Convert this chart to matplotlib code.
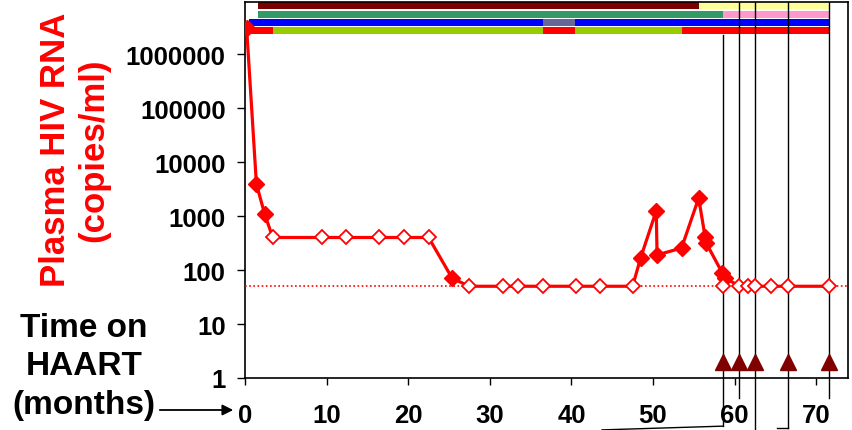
import matplotlib
matplotlib.use('Agg')
import matplotlib.pyplot as plt
import matplotlib.transforms as mtransforms

plt.rcParams['font.family'] = ['Liberation Sans', 'DejaVu Sans']
plt.rcParams['font.weight'] = 'bold'

# viral load over time (months on HAART)
months = [0.2, 1.4, 2.4, 3.4, 9.4, 12.4, 16.4, 19.5, 22.5, 25.4, 27.5, 31.6, 33.5,
          36.5, 40.6, 43.5, 47.5, 48.5, 50.4, 50.5, 53.5, 55.6, 56.4, 56.5, 58.5,
          58.8, 60.6, 61.6, 62.5, 64.5, 66.5, 71.6]
rna = [3000000, 3900, 1100, 400, 400, 400, 400, 400, 400, 70, 50, 50, 50,
       50, 50, 50, 50, 170, 1250, 190, 255, 2150, 400, 320, 88,
       72, 50, 50, 50, 50, 50, 50]
# True = detectable (filled marker), False = below detection (open marker)
detectable = [True, True, True, False, False, False, False, False, False, True, False, False, False,
              False, False, False, False, True, True, True, True, True, True, True, True,
              True, False, False, False, False, False, False]
extra_open_month = [58.6]
extra_open_rna = [50]
detect_limit = 50

# sampling times (triangles + lines)
sample_months = [58.6, 60.6, 62.5, 66.5, 71.6]
sample_level = 2

# treatment regimen bars: rows of (start, end, colour)
row1 = [(1.6, 55.6, '#7B0000'), (55.6, 71.6, '#FFFF99')]
row2 = [(1.6, 58.6, '#339966'), (58.6, 71.6, '#FF99CC')]
row3 = [(0.5, 36.5, '#0000FF'), (36.5, 40.4, '#666699'), (40.4, 71.6, '#0000FF')]
row4 = [(0.5, 3.4, '#FF0000'), (3.4, 36.5, '#99CC00'), (36.5, 40.4, '#FF0000'),
        (40.4, 53.6, '#99CC00'), (53.6, 71.6, '#FF0000')]
rows = [row1, row2, row3, row4]

xticks = [0, 10, 20, 30, 40, 50, 60, 70]
yticks = [1, 10, 100, 1000, 10000, 100000, 1000000]
ytick_labels = ['1', '10', '100', '1000', '10000', '100000', '1000000']

fig = plt.figure(figsize=(8.53, 4.31), dpi=100)
ax = fig.add_axes([245/853, 1 - 379/431, (848 - 245)/853, (379 - 3)/431])
ax.set_yscale('log')
ax.set_xlim(0, 73.9)
ax.set_ylim(1, 10**6.963)

trans = mtransforms.blended_transform_factory(ax.transData, ax.transAxes)

# regimen bars
row_top = [1.0, 0.976, 0.955, 0.934]
row_h = 0.019
for r, top in zip(rows, row_top):
    for s, e, c in r:
        ax.add_patch(plt.Rectangle((s, top - row_h), e - s, row_h, transform=trans,
                                   facecolor=c, edgecolor='none', zorder=2))

# detection limit
ax.axhline(detect_limit, color='red', linestyle=(0, (1, 1.5)), linewidth=1.2, zorder=3)

ax.plot(months, rna, color='red', linewidth=2.3, zorder=4)

fm = [m for m, d in zip(months, detectable) if d]
fv = [v for v, d in zip(rna, detectable) if d]
om = [m for m, d in zip(months, detectable) if not d] + extra_open_month
ov = [v for v, d in zip(rna, detectable) if not d] + extra_open_rna
ax.plot(fm, fv, linestyle='none', marker='D', markersize=8, color='red', zorder=5)
ax.plot(om, ov, linestyle='none', marker='D', markersize=7, markerfacecolor='white',
        markeredgecolor='red', markeredgewidth=1.3, zorder=5)

# sampling lines and triangles
for m in sample_months:
    top = 1.0 if m in (60.6, 62.5, 66.5, 71.6) else 0.912
    ax.plot([m, m], [top, 0], transform=trans, color='black', linewidth=1, zorder=3)
ax.plot(sample_months, [sample_level] * len(sample_months), linestyle='none', marker='^',
        markersize=11, color='#800000', zorder=6)

# callout lines below the axis
below = [-0.128, -0.053, -0.138, -0.133, -0.053]
for m, b in zip(sample_months, below):
    ax.plot([m, m], [0, b], transform=trans, color='black', linewidth=1, clip_on=False)
ax.plot([58.6, 43.75], [-0.128, -0.138], transform=trans, color='black', linewidth=1, clip_on=False)
ax.plot([66.5, 65.2], [-0.133, -0.133], transform=trans, color='black', linewidth=1, clip_on=False)

ax.set_xticks(xticks)
ax.set_xticklabels([str(t) for t in xticks], fontsize=18.5, fontweight='bold')
ax.set_yticks(yticks)
ax.set_yticklabels(ytick_labels, fontsize=18.5, fontweight='bold')
ax.minorticks_off()
ax.tick_params(axis='x', direction='out', length=5, width=1, pad=13)
ax.tick_params(axis='y', direction='out', length=6, width=1, pad=8)
for sp in ax.spines.values():
    sp.set_linewidth(1.2)

fig.text(75/853, 1 - 150/431, 'Plasma HIV RNA\n(copies/ml)', rotation=90, ha='center',
         va='center', multialignment='center', color='red', fontsize=25,
         fontweight='bold', linespacing=1.2)
fig.text(84/853, 1 - 367/431, 'Time on\nHAART\n(months)', ha='center', va='center',
         multialignment='center', color='black', fontsize=24, fontweight='bold',
         linespacing=1.32)
fig.add_artist(matplotlib.patches.FancyArrowPatch((157/853, 1 - 411/431), (236/853, 1 - 411/431),
               transform=fig.transFigure, arrowstyle='-|>', mutation_scale=16,
               color='black', linewidth=1.3))

fig.savefig('out.png', dpi=100)
